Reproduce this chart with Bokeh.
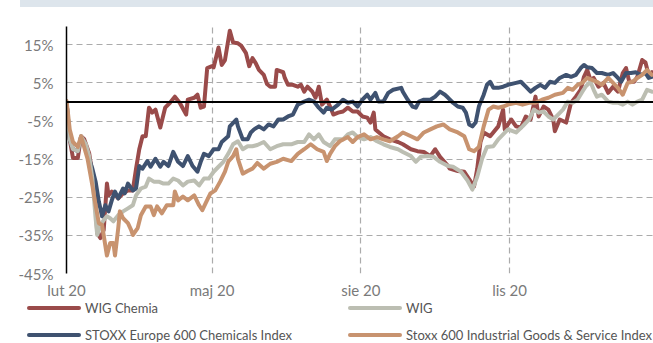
import pandas as pd
from bokeh.plotting import figure
from bokeh.models import Span, FixedTicker, Div
from bokeh.layouts import column
from bokeh.embed import file_html
from bokeh.resources import INLINE

# ---- data: cumulative change (%) vs. 1 Feb 2020, sampled at day offsets ----
start_date = "2020-02-01"
tick_dates = ["2020-02-01", "2020-05-01", "2020-08-01", "2020-11-01"]
tick_labels = ["lut 20", "maj 20", "sie 20", "lis 20"]
y_ticks = [-45, -35, -25, -15, -5, 5, 15]
y_tick_labels = ["-45%", "-35%", "-25%", "-15%", "-5%", "5%", "15%"]

series_names = ["WIG Chemia", "STOXX Europe 600 Chemicals Index", "WIG",
                "Stoxx 600 Industrial Goods & Service Index"]

chem_days = [0, 2, 4, 7, 9, 11, 14, 16, 18, 19, 21, 23, 25, 26, 28, 32, 35, 38, 41, 43,
             45, 47, 49, 51, 53, 55, 58, 61, 64, 67, 70, 74, 75, 79, 81, 83, 85, 87, 90, 91,
             94, 96, 98, 101, 103, 106, 108, 111, 113, 115, 117, 119, 122, 124, 126, 129, 130, 134, 135, 137,
             140, 143, 145, 147, 149, 152, 154, 156, 158, 161, 163, 165, 168, 171, 174, 177, 180, 183, 186, 188,
             190, 191, 196, 200, 205, 208, 213, 217, 221, 225, 228, 231, 236, 237, 242, 246, 250, 252, 254, 256,
             258, 262, 267, 270, 271, 275, 278, 281, 284, 287, 290, 292, 295, 298, 301, 302, 305, 309, 312, 315,
             318, 320, 322, 324, 326, 329, 332, 335, 338, 341, 344, 346, 348, 351, 353, 356, 358, 360, 362]
chem_vals = [0.0, -9.8, -14.7, -14.7, -9.0, -9.8, -13.4, -18.8, -26.6, -34.4, -35.7, -33.6, -21.4, -24.5, -23.5, -25.3, -24.0, -23.2, -23.2, -17.5,
             -12.4, -9.0, -9.0, -1.5, -2.8, -2.0, -6.7, -1.5, -0.2, 1.4, -0.2, -3.3, 0.6, 1.1, 1.9, -1.5, -1.2, 8.9, 9.4, 9.1,
             14.3, 9.7, 11.0, 18.7, 15.6, 15.4, 14.8, 12.8, 9.4, 11.5, 10.2, 8.4, 7.1, 4.7, 4.0, 4.0, 8.4, 7.8, 6.3, 4.5,
             4.5, 4.0, 4.5, 2.7, 4.0, 2.7, 1.1, 4.0, -0.7, 0.6, -1.2, -3.3, -2.8, -2.5, -1.5, -2.5, -2.5, -3.8, -4.1, -5.4,
             -2.8, -7.2, -9.0, -9.8, -10.5, -11.1, -12.4, -12.9, -13.1, -14.2, -12.4, -14.4, -16.8, -17.5, -18.1, -18.3, -20.9, -22.2, -17.5, -10.5,
             -8.0, -9.0, -6.4, -2.0, -7.2, -4.6, -6.4, -6.7, -3.8, -4.6, 1.4, -3.8, -1.2, -2.0, -4.6, -7.7, -4.6, -5.4, -0.2, 1.4,
             3.2, 6.6, 8.4, 5.8, 6.3, 4.0, 5.0, 2.4, 4.0, 2.7, 7.6, 8.9, 5.3, 5.3, 6.6, 11.0, 10.4, 7.1, 7.8]

stoxx_chem_days = [0, 1, 2, 4, 7, 9, 11, 13, 16, 18, 20, 22, 24, 26, 28, 30, 32, 35, 36, 38,
                   41, 43, 45, 47, 50, 52, 55, 58, 60, 63, 66, 69, 72, 75, 78, 81, 83, 85, 88, 91,
                   94, 96, 100, 101, 105, 106, 109, 112, 114, 116, 119, 122, 125, 128, 131, 134, 137, 140, 143, 147,
                   150, 153, 156, 159, 161, 164, 168, 171, 174, 177, 180, 183, 186, 188, 191, 193, 196, 199, 202, 207,
                   208, 211, 214, 216, 218, 221, 225, 228, 231, 234, 236, 239, 242, 245, 247, 249, 251, 253, 255, 258,
                   260, 262, 264, 267, 270, 273, 278, 281, 284, 287, 290, 293, 296, 299, 302, 305, 309, 312, 315, 318,
                   320, 322, 325, 328, 331, 335, 338, 341, 343, 346, 349, 352, 355, 358, 360, 362]
stoxx_chem_vals = [0.0, -4.6, -9.8, -12.4, -12.9, -9.2, -10.5, -13.6, -17.5, -20.9, -26.1, -30.0, -27.1, -28.7, -25.8, -23.5, -25.3, -22.7, -24.0, -21.4,
                   -23.2, -22.7, -16.8, -17.5, -15.5, -17.0, -14.9, -17.0, -15.7, -16.8, -13.1, -15.7, -16.8, -14.2, -16.8, -18.3, -15.7, -13.6, -14.2, -12.4,
                   -12.4, -10.5, -9.0, -6.4, -4.6, -6.4, -9.8, -9.8, -8.0, -7.2, -6.4, -7.2, -5.9, -6.4, -4.6, -4.6, -3.8, -3.3, -0.7, 0.1,
                   0.6, 0.1, -1.5, -2.8, -1.5, -2.0, -0.7, 0.6, -0.2, 0.1, -1.2, 0.6, 1.9, 0.6, 2.4, 0.1, 0.1, 2.4, 3.2, 3.7,
                   2.7, 0.6, -1.2, -1.5, 0.1, 0.6, 0.6, 1.4, 2.7, 1.9, 1.1, -0.2, -1.2, -1.5, -2.8, -5.9, -6.4, -5.4, -1.2, 1.9,
                   4.5, 5.3, 3.7, 3.7, 4.0, 4.5, 5.0, 5.3, 4.0, 2.7, 3.7, 4.5, 3.7, 5.3, 5.0, 6.3, 7.1, 6.6, 7.1, 8.9,
                   9.7, 9.1, 8.9, 7.6, 7.6, 7.1, 7.6, 6.3, 5.3, 7.6, 7.6, 7.8, 7.1, 7.6, 6.3, 6.6]

wig_days = [0, 1, 2, 4, 7, 9, 12, 14, 16, 18, 19, 21, 23, 25, 27, 29, 32, 35, 38, 41,
            43, 46, 49, 51, 54, 57, 60, 63, 66, 69, 72, 75, 79, 82, 85, 88, 91, 94, 97, 100,
            103, 106, 109, 112, 115, 118, 122, 126, 130, 134, 139, 143, 147, 150, 153, 156, 159, 163, 166, 171,
            174, 177, 180, 184, 188, 192, 196, 200, 205, 208, 213, 216, 219, 223, 227, 231, 236, 239, 244, 248,
            251, 254, 257, 260, 264, 267, 270, 273, 278, 282, 286, 289, 292, 295, 298, 301, 304, 307, 310, 313,
            316, 319, 321, 324, 326, 328, 331, 335, 338, 341, 344, 347, 350, 353, 356, 359, 362]
wig_vals = [0.0, -4.6, -9.8, -12.4, -12.9, -9.0, -11.1, -14.2, -20.1, -30.5, -34.9, -32.3, -31.0, -30.0, -30.5, -31.3, -29.7, -28.7, -27.9, -27.1,
            -24.5, -22.7, -22.2, -20.1, -20.9, -20.9, -21.4, -21.4, -20.1, -20.6, -21.9, -20.9, -20.6, -21.9, -20.1, -20.1, -18.3, -17.0, -15.7, -13.6,
            -11.1, -10.3, -12.4, -11.6, -11.6, -11.3, -10.5, -12.4, -11.6, -11.1, -11.1, -10.5, -10.5, -8.5, -9.8, -8.5, -10.5, -11.6, -9.8, -9.8,
            -8.5, -8.0, -9.2, -9.8, -9.2, -10.3, -11.1, -11.8, -12.4, -13.1, -14.2, -15.7, -14.4, -14.2, -14.4, -15.7, -16.8, -17.0, -18.3, -20.6,
            -23.0, -19.6, -14.9, -11.8, -11.6, -9.8, -8.5, -7.2, -8.0, -6.4, -4.6, -2.0, -2.8, -2.5, -3.8, -4.6, -3.3, -2.0, 0.1, -0.2,
            0.6, 2.7, 4.0, 5.3, 3.2, 1.4, 1.9, 0.1, -0.2, -0.2, -0.7, 0.1, -0.7, 0.1, 0.6, 3.2, 2.7]

stoxx_ind_days = [0, 1, 2, 4, 7, 9, 10, 13, 16, 18, 20, 22, 25, 27, 29, 30, 32, 33, 35, 38,
                  40, 41, 44, 46, 49, 52, 54, 56, 59, 62, 66, 67, 69, 72, 75, 79, 82, 84, 86, 89,
                  92, 95, 98, 100, 103, 105, 106, 109, 112, 115, 118, 122, 126, 130, 134, 139, 143, 147, 151, 155,
                  159, 161, 163, 166, 169, 174, 177, 180, 184, 188, 192, 196, 200, 205, 208, 213, 217, 221, 225, 229,
                  233, 237, 242, 246, 249, 252, 255, 258, 261, 264, 267, 270, 273, 278, 282, 286, 290, 294, 298, 302,
                  307, 310, 313, 316, 319, 322, 325, 328, 331, 335, 338, 341, 344, 347, 350, 353, 356, 359, 362]
stoxx_ind_vals = [0.3, -3.3, -7.2, -10.5, -11.8, -9.0, -10.5, -14.9, -21.9, -27.1, -31.8, -32.3, -40.3, -37.0, -37.0, -40.3, -33.1, -28.7, -30.5, -31.8,
                  -33.6, -34.9, -33.1, -29.7, -27.4, -27.4, -29.7, -27.4, -29.2, -27.1, -27.1, -23.5, -25.8, -24.8, -25.8, -24.5, -27.1, -28.4, -26.6, -24.0,
                  -23.2, -20.9, -18.3, -15.7, -14.2, -12.4, -14.9, -18.8, -18.1, -17.5, -16.0, -17.5, -16.2, -15.7, -14.9, -15.5, -13.6, -12.4, -11.1, -12.4,
                  -13.1, -15.5, -13.6, -11.6, -10.3, -9.2, -10.5, -9.2, -8.5, -9.8, -9.2, -9.8, -10.3, -9.0, -8.0, -9.0, -9.8, -8.0, -7.2, -6.4,
                  -5.9, -7.2, -8.0, -9.0, -12.4, -12.9, -11.8, -6.4, -2.0, -1.2, -1.5, -1.2, -0.7, -0.2, -0.7, -0.2, -0.2, 0.6, 1.1, 1.9,
                  2.4, 3.7, 3.2, 4.5, 5.0, 6.3, 5.8, 5.3, 4.5, 6.3, 5.0, 3.7, 1.9, 5.0, 5.3, 6.3, 7.1, 8.4, 7.1]

colors = ["#9a4b4a", "#3f5270", "#bcbeb2", "#c8936f"]

# ---- axis ticks expressed as day offsets ----
t0 = pd.Timestamp(start_date)
tick_pos = [(pd.Timestamp(d) - t0).days for d in tick_dates]

FONT = "Lato"
LINE_W = 4

p = figure(width=653, height=294, x_range=(0, 363), y_range=(-45, 19.8),
           output_backend="svg", toolbar_location=None,
           min_border_left=66, min_border_right=0, min_border_top=19, min_border_bottom=25)
p.outline_line_color = None
p.background_fill_color = "white"
p.border_fill_color = "white"

# grid
p.xgrid.ticker = FixedTicker(ticks=tick_pos)
p.ygrid.ticker = FixedTicker(ticks=y_ticks)
for g in (p.xgrid, p.ygrid):
    g.grid_line_color = "#ababab"
    g.grid_line_dash = "6 4"
    g.grid_line_width = 1.2

# x axis
xa = p.xaxis[0]
xa.ticker = FixedTicker(ticks=tick_pos)
xa.major_label_overrides = {k: v for k, v in zip(tick_pos, tick_labels)}
xa.axis_line_color = None
xa.major_tick_line_color = None
xa.minor_tick_line_color = None
xa.major_tick_out = 0
xa.major_tick_in = 0
xa.major_label_standoff = 7
xa.major_label_text_font = FONT
xa.major_label_text_font_size = "15px"
xa.major_label_text_color = "#7a7a7a"

# y axis
ya = p.yaxis[0]
ya.ticker = FixedTicker(ticks=y_ticks)
ya.major_label_overrides = {k: v for k, v in zip(y_ticks, y_tick_labels)}
ya.axis_line_color = "black"
ya.axis_line_width = 1.5
ya.major_tick_line_color = None
ya.minor_tick_line_color = None
ya.major_tick_out = 0
ya.major_tick_in = 0
ya.major_label_standoff = 13
ya.major_label_text_font = FONT
ya.major_label_text_font_size = "15px"
ya.major_label_text_color = "#7a7a7a"

p.add_layout(Span(location=0, dimension="width", line_color="black", line_width=2))

# series (drawn in legend order, later ones on top)
all_days = [chem_days, stoxx_chem_days, wig_days, stoxx_ind_days]
all_vals = [chem_vals, stoxx_chem_vals, wig_vals, stoxx_ind_vals]
for i in range(4):
    p.line(all_days[i], all_vals[i], line_color=colors[i], line_width=LINE_W,
           line_join="round", line_cap="round")

# ---- legend strip: two columns x two rows (column, row) per series ----
legend_cells = [(0, 0), (0, 1), (1, 0), (1, 1)]
col_left = [27, 348]
row_mid = [7, 34]
parts = []
for i, (c, r) in enumerate(legend_cells):
    x0, ym = col_left[c], row_mid[r]
    parts.append(
        f'<span style="position:absolute;left:{x0}px;top:{ym - 2}px;width:54px;height:4px;'
        f'border-radius:2px;background:{colors[i]};"></span>'
        f'<span style="position:absolute;left:{x0 + 58}px;top:{ym - 8}px;line-height:16px;'
        f'white-space:nowrap;">{series_names[i].replace("&", "&amp;")}</span>'
    )
legend_html = (f'<div style="position:relative;width:653px;height:42px;overflow:hidden;'
               f'font-family:{FONT};font-size:13px;color:#555555;">' + "".join(parts) + '</div>')
legend_strip = Div(text=legend_html, width=653, height=42, margin=(0, 0, 0, 0))

band = Div(text="", width=633, height=7, margin=(0, 0, 0, 20),
           styles={"background-color": "#dde5ec"})

layout = column(band, p, legend_strip, spacing=0)

open("out.html", "w").write(file_html(layout, INLINE))
